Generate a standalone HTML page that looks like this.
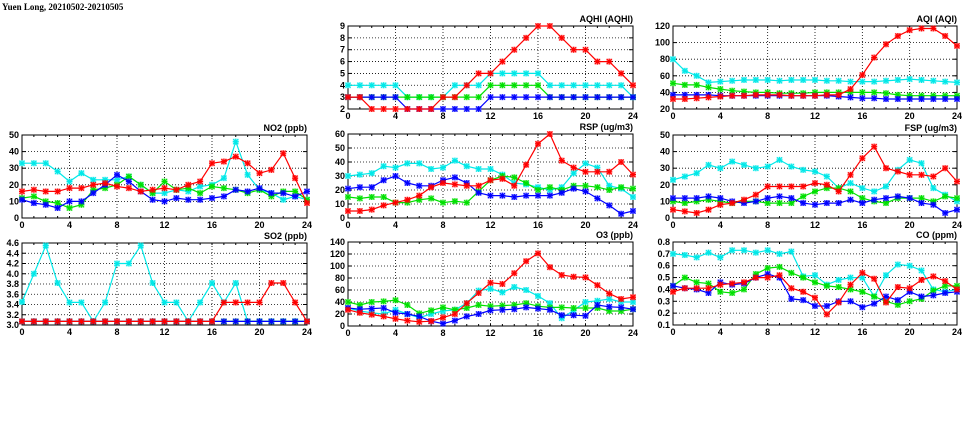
<!DOCTYPE html>
<html><head><meta charset="utf-8"><style>
html,body{margin:0;padding:0;background:#fff;width:975px;height:447px;overflow:hidden}
svg{display:block}
text{font-family:"Liberation Sans",sans-serif;font-weight:bold;font-size:9px;fill:#000}
</style></head><body>
<svg id="c" width="975" height="447">
<text x="2" y="10" font-size="11" style="font-family:'Liberation Serif',serif">Yuen Long, 20210502-20210505</text>
</svg>
<script>
const hours=[0,1,2,3,4,5,6,7,8,9,10,11,12,13,14,15,16,17,18,19,20,21,22,23,24];
const xTicks=[0,4,8,12,16,20,24];
const seriesColors=['#00e8e8','#00e000','#0000ff','#ff0000'];
const seriesNames=['cyan','green','blue','red'];
// AQHI
const aqhiCyan=[4,4,4,4,4,3,3,3,3,4,4,4,5,5,5,5,5,4,4,4,4,4,4,4,3];
const aqhiGreen=[3,3,3,3,3,3,3,3,3,3,3,3,4,4,4,4,4,3,3,3,3,3,3,3,3];
const aqhiBlue=[3,3,3,3,3,2,2,2,2,2,2,2,3,3,3,3,3,3,3,3,3,3,3,3,3];
const aqhiRed=[3,3,2,2,2,2,2,2,3,3,4,5,5,6,7,8,9,9,8,7,7,6,6,5,4];
const aqhiTicks=[2,3,4,5,6,7,8,9];
// AQI
const aqiCyan=[80,66,60,52,53,54,55,55,55,54,55,55,55,54,54,53,53,53,54,55,56,55,54,53,52];
const aqiGreen=[51,49,49,46,44,42,41,40,40,39,39,39,40,40,40,40,40,40,39,37,36,36,36,36,36];
const aqiBlue=[37,37,37,37,36,36,36,36,36,36,36,36,36,36,35,34,33,33,32,32,32,32,32,32,32];
const aqiRed=[32,32,33,34,35,36,36,37,37,37,36,36,36,37,37,44,61,82,98,108,115,117,117,108,96];
const aqiTicks=[20,40,60,80,100,120];
// NO2
const no2Cyan=[33,33,33,28,22,27,23,23,23,25,20,15,15,17,16,19,20,24,46,26,17,15,11,13,11];
const no2Green=[12,13,10,9,6,8,17,18,20,25,20,15,22,17,18,15,19,18,17,15,17,13,16,16,11];
const no2Blue=[11,9,8,6,10,10,15,20,26,22,16,11,10,12,11,11,12,13,17,16,18,15,15,13,16];
const no2Red=[16,17,16,16,18,18,20,21,19,18,16,17,18,17,20,22,33,34,37,33,27,29,39,24,9];
const no2Ticks=[0,10,20,30,40,50];
// RSP
const rspCyan=[30,31,32,37,36,39,39,35,36,41,37,35,35,31,25,24,22,20,22,32,39,36,23,21,15];
const rspGreen=[15,14,15,15,11,11,13,14,11,12,11,19,27,30,29,25,20,22,20,23,23,22,20,22,21];
const rspBlue=[21,22,22,27,30,25,23,23,27,29,25,18,16,16,15,16,16,16,18,21,19,14,9,3,5];
const rspRed=[5,5,6,9,11,13,16,22,25,24,23,23,27,28,23,38,53,60,41,36,33,33,33,40,31];
const rspTicks=[0,10,20,30,40,50,60];
// FSP
const fspCyan=[23,25,27,32,30,34,32,30,31,35,31,29,28,25,18,21,18,16,19,29,35,33,18,14,10];
const fspGreen=[10,9,10,11,10,9,10,10,9,9,9,13,16,18,18,16,12,10,9,12,12,12,10,13,12];
const fspBlue=[12,12,12,13,12,10,9,10,12,13,12,9,8,9,9,11,9,11,12,13,12,9,8,3,5];
const fspRed=[5,4,3,5,8,9,11,14,19,19,19,19,21,20,16,26,36,43,30,28,26,26,25,30,22];
const fspTicks=[0,10,20,30,40,50];
// SO2
const so2Cyan=[3.45,4.0,4.55,3.82,3.44,3.44,3.07,3.44,4.2,4.2,4.55,3.82,3.44,3.44,3.07,3.44,3.82,3.44,3.82,3.07,3.07,3.07,3.07,3.07,3.07];
const so2Green=[3.07,3.07,3.07,3.07,3.07,3.07,3.07,3.07,3.07,3.07,3.07,3.07,3.07,3.07,3.07,3.07,3.07,3.07,3.07,3.07,3.07,3.07,3.07,3.07,3.07];
const so2Blue=[3.07,3.07,3.07,3.07,3.07,3.07,3.07,3.07,3.07,3.07,3.07,3.07,3.07,3.07,3.07,3.07,3.07,3.07,3.07,3.07,3.07,3.07,3.07,3.07,3.07];
const so2Red=[3.07,3.07,3.07,3.07,3.07,3.07,3.07,3.07,3.07,3.07,3.07,3.07,3.07,3.07,3.07,3.07,3.07,3.44,3.44,3.44,3.44,3.82,3.82,3.44,3.07];
const so2Ticks=[3.0,3.2,3.4,3.6,3.8,4.0,4.2,4.4,4.6];
// O3
const o3Cyan=[30,25,22,20,27,20,14,20,25,27,38,59,62,56,65,60,50,38,13,26,40,42,45,40,40];
const o3Green=[40,35,40,41,43,35,21,26,31,27,30,35,33,34,35,38,33,31,31,30,30,30,25,25,28];
const o3Blue=[30,28,29,30,22,20,16,8,4,9,16,20,26,27,28,31,29,27,18,18,17,35,32,31,28];
const o3Red=[27,22,19,16,12,9,7,8,14,20,38,55,72,70,88,108,121,98,85,82,81,68,54,45,48];
const o3Ticks=[0,20,40,60,80,100,120,140];
// CO
const coCyan=[0.70,0.69,0.67,0.71,0.67,0.73,0.73,0.71,0.73,0.70,0.72,0.51,0.52,0.44,0.48,0.50,0.50,0.34,0.52,0.61,0.60,0.56,0.40,0.38,0.40];
const coGreen=[0.43,0.50,0.46,0.45,0.38,0.37,0.40,0.53,0.58,0.59,0.54,0.50,0.46,0.43,0.42,0.40,0.38,0.34,0.30,0.27,0.30,0.32,0.39,0.43,0.43];
const coBlue=[0.43,0.41,0.40,0.37,0.46,0.44,0.45,0.50,0.53,0.50,0.32,0.31,0.26,0.26,0.30,0.30,0.25,0.28,0.34,0.31,0.38,0.34,0.35,0.37,0.38];
const coRed=[0.38,0.41,0.41,0.41,0.44,0.45,0.46,0.50,0.50,0.52,0.41,0.38,0.33,0.19,0.29,0.44,0.54,0.49,0.29,0.42,0.41,0.48,0.51,0.47,0.40];
const coTicks=[0.1,0.2,0.3,0.4,0.5,0.6,0.7,0.8];

const panels=[
 {name:'aqhi',title:'AQHI (AQHI)',box:[348,26,633,109],ticks:aqhiTicks,dec:0,s:[aqhiCyan,aqhiGreen,aqhiBlue,aqhiRed]},
 {name:'aqi',title:'AQI (AQI)',box:[673,26,957,109],ticks:aqiTicks,dec:0,s:[aqiCyan,aqiGreen,aqiBlue,aqiRed]},
 {name:'no2',title:'NO2 (ppb)',box:[22,135,307,218],ticks:no2Ticks,dec:0,s:[no2Cyan,no2Green,no2Blue,no2Red]},
 {name:'rsp',title:'RSP (ug/m3)',box:[348,134,633,218],ticks:rspTicks,dec:0,s:[rspCyan,rspGreen,rspBlue,rspRed]},
 {name:'fsp',title:'FSP (ug/m3)',box:[673,135,957,218],ticks:fspTicks,dec:0,s:[fspCyan,fspGreen,fspBlue,fspRed]},
 {name:'so2',title:'SO2 (ppb)',box:[22,243,307,325],ticks:so2Ticks,dec:1,s:[so2Cyan,so2Green,so2Blue,so2Red]},
 {name:'o3',title:'O3 (ppb)',box:[348,242,633,326],ticks:o3Ticks,dec:0,s:[o3Cyan,o3Green,o3Blue,o3Red]},
 {name:'co',title:'CO (ppm)',box:[673,242,957,325],ticks:coTicks,dec:1,s:[coCyan,coGreen,coBlue,coRed]}
];
const svg=document.getElementById('c');
const NS='http://www.w3.org/2000/svg';
function mk(tag,attrs,parent){const e=document.createElementNS(NS,tag);for(const k in attrs)e.setAttribute(k,attrs[k]);(parent||svg).appendChild(e);return e;}
panels.forEach(p=>{
 const [L,T,R,B]=p.box;
 const g=mk('g',{});
 
 
 const yMin=p.ticks[0],yMax=p.ticks[p.ticks.length-1];
 const xs=h=>L+(R-L)*h/24;
 const ys=v=>B-(B-T)*(v-yMin)/(yMax-yMin);
 p.ticks.forEach((t,i)=>{
  const y=ys(t);
  if(i>0&&i<p.ticks.length-1){const gl=mk('line',{x1:L,x2:R,y1:y,y2:y,stroke:'#000','stroke-width':0.8,'stroke-dasharray':'1,2'},g);
   
   }
  mk('line',{x1:L,x2:L+4,y1:y,y2:y,stroke:'#000'},g);
  mk('line',{x1:R,x2:R-4,y1:y,y2:y,stroke:'#000'},g);
  const tl=mk('text',{x:L-3,y:y+3,'text-anchor':'end'},g);
  tl.textContent=t.toFixed(p.dec);
  
  
 });
 xTicks.forEach((t,i)=>{
  const x=xs(t);
  if(i>0&&i<xTicks.length-1){const gl=mk('line',{x1:x,x2:x,y1:T,y2:B,stroke:'#000','stroke-width':0.8,'stroke-dasharray':'1,2'},g);
   
   }
  const tl=mk('text',{x:x,y:B+10,'text-anchor':'middle'},g);
  tl.textContent=t;
  
  
 });
 hours.forEach(h=>{const x=xs(h);mk('line',{x1:x,x2:x,y1:B,y2:B-2,stroke:'#000'},g);mk('line',{x1:x,x2:x,y1:T,y2:T+2,stroke:'#000'},g);});
 const fr=mk('rect',{x:L,y:T,width:R-L,height:B-T,fill:'none',stroke:'#000','stroke-width':1},g);
 
 
 const ti=mk('text',{x:R,y:T-4,'text-anchor':'end'},g);
 ti.textContent=p.title;
 
 
 p.s.forEach((vals,si)=>{
  const col=seriesColors[si];
  const pts=vals.map((v,h)=>xs(hours[h]).toFixed(1)+','+ys(v).toFixed(1)).join(' ');
  const pl=mk('polyline',{points:pts,fill:'none',stroke:col,'stroke-width':1.2},g);
  
  
  vals.forEach((v,h)=>{
   const x=xs(hours[h]),y=ys(v);
   const m=mk('g',{},g);
   
   
   mk('rect',{x:x-3,y:y-3,width:6,height:6,fill:col,'fill-opacity':0.35},m);
   mk('path',{d:`M${x-2.5},${y-2.5}L${x+2.5},${y+2.5}M${x-2.5},${y+2.5}L${x+2.5},${y-2.5}M${x},${y-3}L${x},${y+3}M${x-3},${y}L${x+3},${y}`,stroke:col,'stroke-width':1.1},m);
  });
 });
});
</script>
</body></html>
